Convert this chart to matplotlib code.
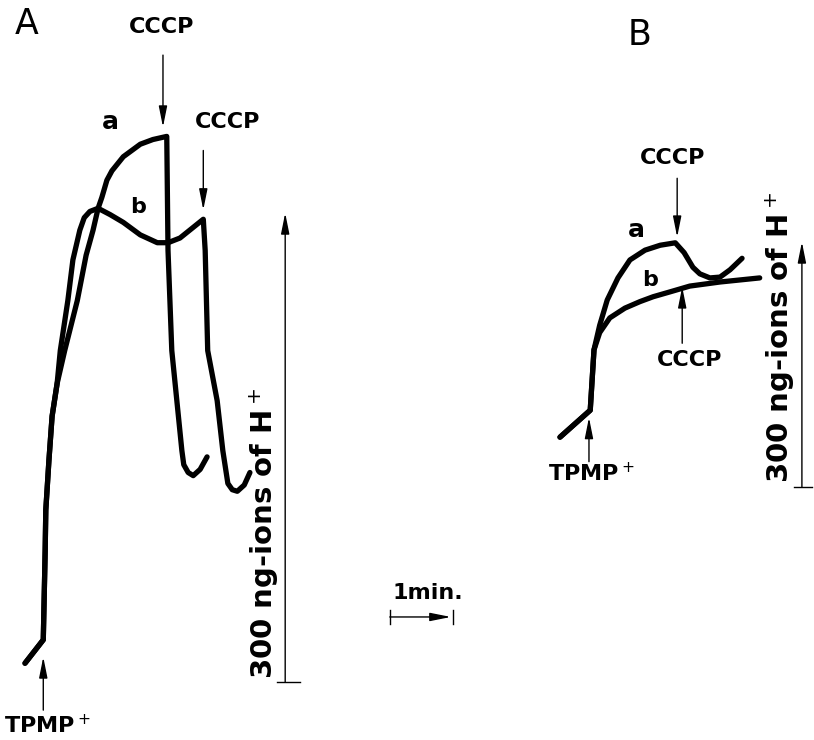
import matplotlib
matplotlib.use('Agg')
from matplotlib import pyplot as plt

# ---- panel A : H+ uptake traces (time in min, uptake in ng-ions H+) ----
a_t = [0, 0.29, 0.32, 0.33, 0.38, 0.43, 0.51, 0.63, 0.83, 0.97, 1.08, 1.16, 1.22, 1.30, 1.38, 1.56, 1.83,
       2.03, 2.25, 2.27, 2.33, 2.41, 2.49, 2.52, 2.59, 2.67, 2.78, 2.89]
a_h = [12, 27, 84, 110, 142, 170, 191, 212, 244, 273, 289, 303, 310, 321, 327, 336, 344,
       347, 349, 276, 212, 180, 148, 139, 134, 132, 136, 144]

b_t = [0, 0.29, 0.32, 0.33, 0.38, 0.43, 0.51, 0.56, 0.68, 0.76, 0.87, 0.94, 1.03, 1.16, 1.35, 1.56, 1.83,
       2.10, 2.27, 2.46, 2.83, 2.86, 2.90, 3.05, 3.14, 3.22, 3.29, 3.37, 3.48, 3.57]
b_h = [12, 27, 84, 110, 142, 170, 191, 212, 244, 270, 289, 297, 301, 303, 299, 294, 286,
       281, 281, 284, 296, 276, 212, 180, 148, 127, 123, 122, 126, 134]

# additions in panel A (time of addition)
a_tpmp_t = 0.29
a_cccp_t = [2.19, 2.83]

# ---- panel B ----
Ba_t = [0, 0.48, 0.51, 0.54, 0.63, 0.75, 0.92, 1.11, 1.35, 1.59, 1.83, 1.97, 2.11, 2.22, 2.38, 2.54, 2.70, 2.89]
Ba_h = [61, 94, 131, 168, 198, 229, 256, 278, 290, 296, 299, 287, 269, 261, 256, 257, 266, 280]

Bb_t = [0, 0.48, 0.51, 0.54, 0.63, 0.79, 1.03, 1.27, 1.48, 1.75, 2.06, 2.54, 3.17]
Bb_h = [61, 94, 131, 168, 189, 207, 219, 227, 233, 239, 246, 251, 256]

b_tpmp_t = 0.46
b_cccp_t = [1.86, 1.94]

scale_h = 300      # ng-ions of H+
scale_t = 1        # min

font = 'DejaVu Sans'
trace = dict(color='black', lw=3.8, solid_joinstyle='round', solid_capstyle='round')
arrow = dict(arrowstyle='-|>,head_width=0.18,head_length=0.9', color='black', lw=1.0,
             shrinkA=0, shrinkB=0, mutation_scale=14)
lab = dict(family=font, weight='bold', ha='center', va='center')


def add_arrow(ax, x0, y0, x1, y1):
    ax.annotate('', xy=(x1, y1), xytext=(x0, y0), arrowprops=arrow)


fig = plt.figure(figsize=(8.14, 7.40), dpi=100, facecolor='white')

# both panels share the whole figure, each with its own scales
ax = fig.add_axes([0, 0, 1, 1])
ax.set_xlim(-0.397, 12.524)
ax.set_ylim(-37.1, 436.25)
ax.axis('off')

axb = fig.add_axes([0, 0, 1, 1])
axb.set_xlim(-8.889, 4.032)
axb.set_ylim(-309.8, 596.3)
axb.axis('off')

# panel A
ax.plot(a_t, a_h, **trace)
ax.plot(b_t, b_h, **trace)
ax.text(0.02, 421, 'A', fontsize=25, family=font, ha='center', va='center')
ax.text(2.17, 419, 'CCCP', fontsize=16, **lab)
add_arrow(ax, a_cccp_t[0], 401, a_cccp_t[0], 355)
ax.text(3.22, 358, 'CCCP', fontsize=16, **lab)
add_arrow(ax, a_cccp_t[1], 340, a_cccp_t[1], 302)
ax.text(1.35, 358, 'a', fontsize=18, **lab)
ax.text(1.79, 304, 'b', fontsize=16, **lab)
add_arrow(ax, a_tpmp_t, -18, a_tpmp_t, 16)
ax.text(0.36, -28, 'TPMP$^+$', fontsize=16, **lab)

# vertical scale bar A
add_arrow(ax, 4.13, 0, 4.13, scale_h)
ax.plot([4.0, 4.37], [0, 0], color='black', lw=1.0)
ax.text(3.79, 95, '300 ng-ions of H$^+$', fontsize=21, rotation=90, **lab)

# time bar
add_arrow(ax, 5.79, 41.6, 5.79 + scale_t - 0.03, 41.6)
ax.plot([5.79, 5.79], [37, 46], color='black', lw=1.0)
ax.plot([5.79 + scale_t, 5.79 + scale_t], [37, 46], color='black', lw=1.0)
ax.text(6.40, 57, '1min.', fontsize=16, **lab)

# panel B
axb.plot(Ba_t, Ba_h, **trace)
axb.plot(Bb_t, Bb_h, **trace)
axb.text(1.27, 554, 'B', fontsize=25, family=font, ha='center', va='center')
axb.text(1.79, 403, 'CCCP', fontsize=16, **lab)
add_arrow(axb, b_cccp_t[0], 378, b_cccp_t[0], 306)
axb.text(1.22, 315, 'a', fontsize=18, **lab)
axb.text(1.43, 254, 'b', fontsize=16, **lab)
add_arrow(axb, b_cccp_t[1], 176, b_cccp_t[1], 245)
axb.text(2.06, 156, 'CCCP', fontsize=16, **lab)
add_arrow(axb, b_tpmp_t, 31, b_tpmp_t, 85)
axb.text(0.50, 16, 'TPMP$^+$', fontsize=16, **lab)

# vertical scale bar B
add_arrow(axb, 3.84, 0, 3.84, scale_h)
axb.plot([3.71, 4.0], [0, 0], color='black', lw=1.0)
axb.text(3.49, 183, '300 ng-ions of H$^+$', fontsize=21, rotation=90, **lab)

fig.savefig('out.png', dpi=100, facecolor='white')
